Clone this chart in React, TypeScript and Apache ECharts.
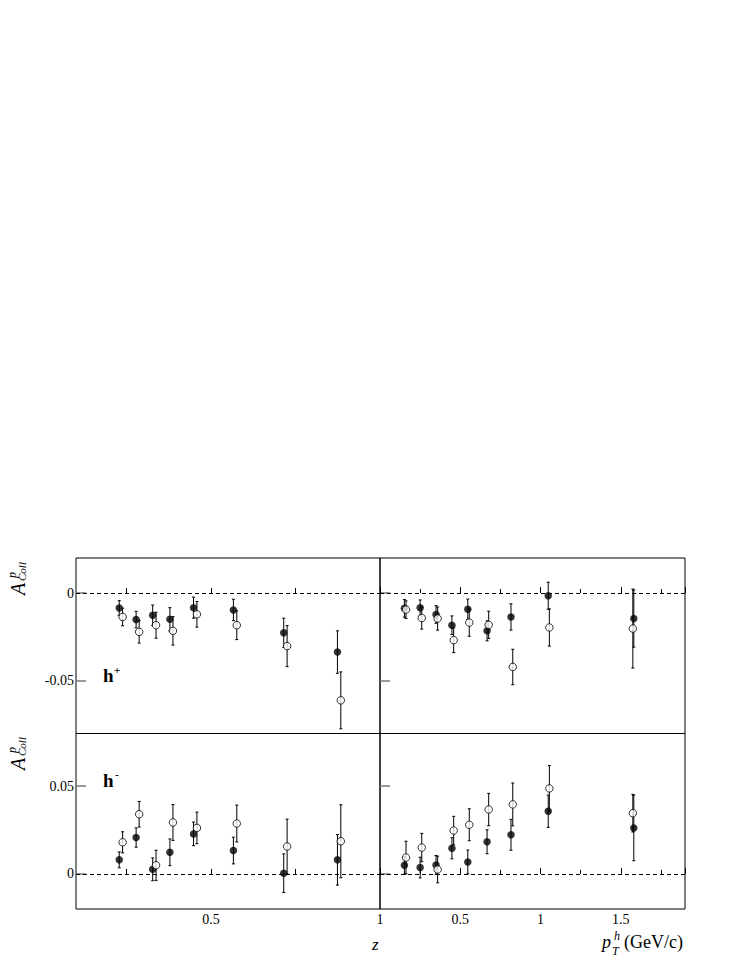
import React, { useEffect, useRef } from "react";
import * as echarts from "echarts";

// z bins (left panels)
const zFilled = [0.228, 0.278, 0.327, 0.378, 0.448, 0.566, 0.715, 0.874];
const zOpen = [0.238, 0.287, 0.337, 0.387, 0.458, 0.576, 0.725, 0.884];
// pT bins (right panels)
const ptFilled = [0.152, 0.25, 0.349, 0.448, 0.547, 0.667, 0.816, 1.048, 1.581];
const ptOpen = [0.162, 0.26, 0.359, 0.459, 0.556, 0.677, 0.827, 1.055, 1.575];

// h+ vs z
const hpZFilledV = [-0.0085, -0.0151, -0.0126, -0.0149, -0.0083, -0.0096, -0.0226, -0.0336];
const hpZFilledE = [0.0042, 0.0047, 0.0058, 0.0066, 0.006, 0.0061, 0.0083, 0.0121];
const hpZOpenV = [-0.0136, -0.0221, -0.0183, -0.0215, -0.0121, -0.0183, -0.0302, -0.0611];
const hpZOpenE = [0.005, 0.0064, 0.0074, 0.0081, 0.0073, 0.0082, 0.0117, 0.0162];

// h+ vs pT
const hpPtFilledV = [-0.0087, -0.0083, -0.0122, -0.0183, -0.0092, -0.0215, -0.0136, -0.0015, -0.0145];
const hpPtFilledE = [0.005, 0.0044, 0.005, 0.0053, 0.0058, 0.0057, 0.0075, 0.0077, 0.0163];
const hpPtOpenV = [-0.0094, -0.0142, -0.0145, -0.0268, -0.0168, -0.0181, -0.0421, -0.0196, -0.0202];
const hpPtOpenE = [0.005, 0.0063, 0.0066, 0.0071, 0.0078, 0.0078, 0.0101, 0.0106, 0.0225];

// h- vs z
const hmZFilledV = [0.008, 0.0207, 0.0026, 0.0123, 0.0228, 0.0133, 0.0004, 0.008];
const hmZFilledE = [0.0045, 0.0055, 0.0065, 0.0076, 0.0067, 0.0076, 0.011, 0.0144];
const hmZOpenV = [0.018, 0.034, 0.0049, 0.0293, 0.0262, 0.0287, 0.0156, 0.0186];
const hmZOpenE = [0.006, 0.0073, 0.0086, 0.0102, 0.009, 0.0105, 0.0156, 0.0208];

// h- vs pT
const hmPtFilledV = [0.0049, 0.0036, 0.0051, 0.0146, 0.0068, 0.0183, 0.0223, 0.0357, 0.0262];
const hmPtFilledE = [0.005, 0.0059, 0.0054, 0.006, 0.0068, 0.0068, 0.0088, 0.0092, 0.0187];
const hmPtOpenV = [0.0093, 0.015, 0.0025, 0.0247, 0.028, 0.0367, 0.0396, 0.0487, 0.0346];
const hmPtOpenE = [0.0093, 0.0081, 0.0076, 0.0081, 0.0091, 0.0092, 0.0122, 0.013, 0.0107];

const zTicks = [0.25, 0.5, 0.75, 1];
const zLabels = [0.5, 1];
const yTopTicks = [-0.05, 0];
const yBotTicks = [0, 0.05];

const SERIF = '"Liberation Serif", "DejaVu Serif", serif';

function triples(x: number[], v: number[], e: number[]) {
  return x.map((xx, i) => [xx, v[i], e[i]]);
}

function errSeries(idx: number, data: number[][]) {
  return {
    type: "custom",
    xAxisIndex: idx,
    yAxisIndex: idx,
    encode: { x: 0, y: 1 },
    data,
    silent: true,
    renderItem: (params: any, api: any) => {
      const x = api.value(0);
      const y = api.value(1);
      const e = api.value(2);
      const t = api.coord([x, y + e]);
      const b = api.coord([x, y - e]);
      const st = { stroke: "#000", lineWidth: 1 };
      return {
        type: "group",
        children: [
          { type: "line", shape: { x1: t[0], y1: t[1], x2: b[0], y2: b[1] }, style: st },
          { type: "line", shape: { x1: t[0] - 1.5, y1: t[1], x2: t[0] + 1.5, y2: t[1] }, style: st },
          { type: "line", shape: { x1: b[0] - 1.5, y1: b[1], x2: b[0] + 1.5, y2: b[1] }, style: st },
        ],
      };
    },
  };
}

function pointSeries(idx: number, data: number[][], open: boolean, withLine: boolean) {
  const s: any = {
    type: "scatter",
    xAxisIndex: idx,
    yAxisIndex: idx,
    data: data.map((d) => [d[0], d[1]]),
    symbol: "circle",
    symbolSize: 7.5,
    silent: true,
    itemStyle: open
      ? { color: "#fff", borderColor: "#000", borderWidth: 1 }
      : { color: "#000", borderColor: "#000", borderWidth: 0 },
  };
  if (withLine) {
    s.markLine = {
      silent: true,
      symbol: ["none", "none"],
      label: { show: false },
      lineStyle: { type: [4, 3], color: "#000", width: 1 },
      data: [{ yAxis: 0 }],
    };
  }
  return s;
}

export default function App() {
  const ref = useRef<HTMLDivElement>(null);
  useEffect(() => {
    if (!ref.current) return;
    const chart = echarts.init(ref.current, undefined, { renderer: "svg" });

    const L = 76, M = 380, R = 685, T = 558, H = 175.5, W1 = M - L, W2 = R - M;
    const grids = [
      { left: L, top: T, width: W1, height: H },
      { left: M, top: T, width: W2, height: H },
      { left: L, top: T + H, width: W1, height: H },
      { left: M, top: T + H, width: W2, height: H },
    ].map((g) => ({ ...g, show: true, borderColor: "#000", borderWidth: 1, backgroundColor: "transparent" }));

    const labelStyle = { fontFamily: SERIF, fontSize: 14, color: "#000" };

    const zAxis = (gi: number, showLabel: boolean) => ({
      type: "value",
      gridIndex: gi,
      min: 0.1,
      max: 1.0,
      axisLine: { show: false },
      splitLine: { show: false },
      axisTick: { show: true, inside: true, length: 5, customValues: zTicks, lineStyle: { color: "#000" } },
      axisLabel: { show: showLabel, customValues: zLabels, margin: 3, ...labelStyle, formatter: (v: number) => String(v) },
    });
    const ptAxis = (gi: number, showLabel: boolean) => ({
      type: "value",
      gridIndex: gi,
      min: 0,
      max: 1.9,
      interval: 0.5,
      axisLine: { show: false },
      splitLine: { show: false },
      axisTick: { show: true, inside: true, length: 6, lineStyle: { color: "#000" } },
      minorTick: { show: true, splitNumber: 2, length: 4, lineStyle: { color: "#000" } },
      minorSplitLine: { show: false },
      axisLabel: {
        show: showLabel,
        margin: 3,
        showMinLabel: false,
        showMaxLabel: false,
        ...labelStyle,
        formatter: (v: number) => ([0.5, 1, 1.5].indexOf(v) >= 0 ? String(v) : ""),
      },
    });
    const yAxis = (gi: number, top: boolean, showLabel: boolean) => ({
      type: "value",
      gridIndex: gi,
      min: top ? -0.08 : -0.02,
      max: top ? 0.02 : 0.08,
      axisLine: { show: false },
      splitLine: { show: false },
      axisTick: {
        show: true,
        inside: true,
        length: 10,
        customValues: top ? yTopTicks : yBotTicks,
        lineStyle: { color: "#777", width: 1.5 },
      },
      axisLabel: {
        show: showLabel,
        customValues: top ? yTopTicks : yBotTicks,
        margin: 2,
        ...labelStyle,
        formatter: (v: number) => (v === 0 ? "0" : String(v)),
      },
    });

    const panels = [
      { f: triples(zFilled, hpZFilledV, hpZFilledE), o: triples(zOpen, hpZOpenV, hpZOpenE) },
      { f: triples(ptFilled, hpPtFilledV, hpPtFilledE), o: triples(ptOpen, hpPtOpenV, hpPtOpenE) },
      { f: triples(zFilled, hmZFilledV, hmZFilledE), o: triples(zOpen, hmZOpenV, hmZOpenE) },
      { f: triples(ptFilled, hmPtFilledV, hmPtFilledE), o: triples(ptOpen, hmPtOpenV, hmPtOpenE) },
    ];
    const series: any[] = [];
    panels.forEach((p, i) => {
      series.push(errSeries(i, p.f));
      series.push(pointSeries(i, p.f, false, true));
      series.push(errSeries(i, p.o));
      series.push(pointSeries(i, p.o, true, false));
    });

    const txt = (text: string, x: number, baseline: number, size: number, style: string, extra: any = {}) => ({
      type: "text",
      x,
      y: baseline - 0.35 * size,
      style: { text, font: `${style} ${size}px ${SERIF}`, fill: "#000", align: "left", verticalAlign: "middle", ...extra },
    });

    const yTitle = (baseY: number) => ({
      type: "group",
      x: 25,
      y: baseY,
      rotation: Math.PI / 2,
      children: [
        txt("A", 0, 0, 20, "italic"),
        txt("p", 17, -9, 12, "italic"),
        txt("Coll", 14, 1, 11, "italic"),
      ],
    });

    chart.setOption({
      animation: false,
      textStyle: { fontFamily: SERIF, color: "#000" },
      grid: grids,
      xAxis: [zAxis(0, false), ptAxis(1, false), zAxis(2, true), ptAxis(3, true)],
      yAxis: [yAxis(0, true, true), yAxis(1, true, false), yAxis(2, false, true), yAxis(3, false, false)],
      series,
      graphic: [
        yTitle(595),
        yTitle(770),
        txt("h", 103, 682, 19, "bold"),
        txt("+", 114, 674, 11, "bold"),
        txt("h", 103, 787, 19, "bold"),
        txt("-", 115, 778, 11, "bold"),
        txt("z", 372, 950, 17, "italic"),
        txt("p", 602, 948, 18, "italic"),
        txt("h", 614, 940, 12, "italic"),
        txt("T", 612, 955, 12, "italic"),
        txt("(GeV/c)", 624, 948, 18, ""),
      ],
    });
    return () => chart.dispose();
  }, []);
  return <div ref={ref} style={{ position: "absolute", left: 0, top: 0, width: 747, height: 967 }} />;
}
